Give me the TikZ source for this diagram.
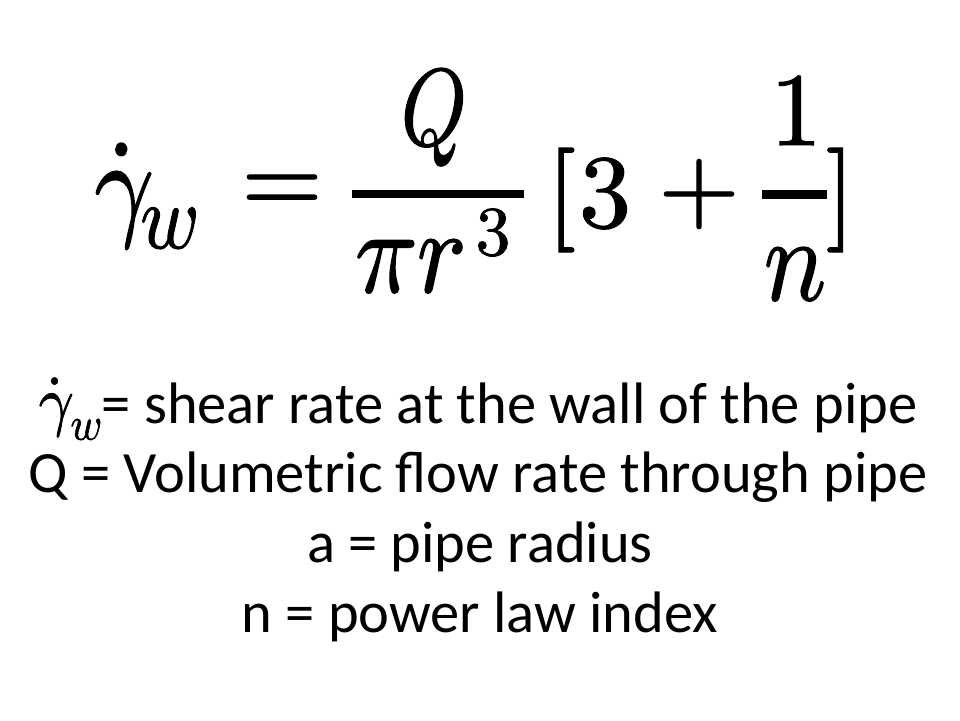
\documentclass[tikz,border=0pt]{standalone}
\usepackage{graphicx}
\usepackage{unicode-math}
\setmainfont{Carlito}
\setmathfont{Latin Modern Math}[FakeBold=1.2]
\newcommand\tallm[1]{\scalebox{1}[1.15]{#1}}
\begin{document}
\begin{tikzpicture}[x=1pt,y=-1pt,
  big/.style={inner sep=0pt, font=\fontsize{104}{110}\selectfont},
  mid/.style={inner sep=0pt, font=\fontsize{80}{90}\selectfont},
  small/.style={inner sep=0pt, font=\fontsize{70}{76}\selectfont},
  rulebar/.style={fill=black},
  txt/.style={inner sep=0pt, anchor=base, font=\fontsize{58.5}{60}\selectfont}]
\useasboundingbox (0,0) rectangle (960,720);
\fill[white] (0,0) rectangle (960,720);
% equation
\node[big, anchor=base] (gam) at (124,224) {\tallm{$\dot{\gamma}$}};
\node[mid, anchor=base] (w) at (169,248) {\tallm{$w$}};
\node[big] (eq) at (282,194) {$=$};
\node[big, anchor=base] (Q) at (434,145) {\scalebox{0.8}[1.05]{$Q$}};
\fill[rulebar] (352,190) rectangle (524,198);
\node[big, anchor=base] (pir) at (410,292) {\tallm{$\pi r$}};
\node[small, anchor=base] (cube) at (493,255) {$3$};
\node[big] (lbr) at (562,200) {$[$};
\node[big, anchor=base] (three) at (605,227) {$3$};
\node[big] (plus) at (699,194) {$+$};
\node[big, anchor=base] (one) at (796,145) {$1$};
\fill[rulebar] (762,190) rectangle (827,199);
\node[big, anchor=base] (n) at (795,300) {\tallm{$n$}};
\node[big] (rbr) at (840,200) {$]$};
% legend
\node[txt] (l1) at (478,423) {\scalebox{1.05}[1.15]{$\dot{\gamma}_w$}= shear rate at the wall of the pipe};
\node[txt] (l2) at (478,492) {Q = Volumetric flow rate through pipe};
\node[txt] (l3) at (480,562) {a = pipe radius};
\node[txt] (l4) at (480,632) {n = power law index};
\end{tikzpicture}
\end{document}
